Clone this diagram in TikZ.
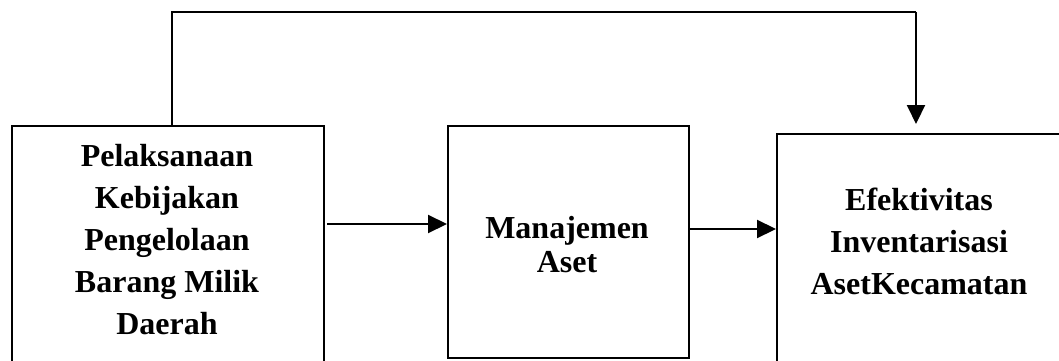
\documentclass[tikz,border=0pt]{standalone}
\usepackage{fontspec}
\setmainfont{Liberation Serif}
\usetikzlibrary{arrows.meta}
\begin{document}
\begin{tikzpicture}[x=1pt,y=-1pt,
  box/.style={draw=black,line width=2.1pt,anchor=north west,inner sep=0pt},
  lbl/.style={font=\fontsize{32}{42}\selectfont\bfseries,align=center,inner sep=0pt},
  arr/.style={line width=2.1pt,-{Triangle[length=19pt,width=18pt]}},
  conn/.style={line width=2.1pt}]
\useasboundingbox (0,0) rectangle (1059,361);
\fill[white] (0,0) rectangle (1059,361);
% boxes
\node[box,minimum width=312pt,minimum height=260pt] (b1) at (11,125) {};
\node[box,minimum width=241pt,minimum height=232pt] (b2) at (447,125) {};
\node[box,minimum width=286pt,minimum height=260pt] (b3) at (776,133) {};
% labels
\node[lbl] (t1) at (167,240) {Pelaksanaan\\Kebijakan\\Pengelolaan\\Barang Milik\\Daerah};
\node[lbl,font=\fontsize{32}{34}\selectfont\bfseries] (t2) at (567,245) {Manajemen\\Aset};
\node[lbl] (t3) at (919,241) {Efektivitas\\Inventarisasi\\AsetKecamatan};
% helper coordinates
\coordinate (ya) at (0,224);
\coordinate (yb) at (0,229);
\coordinate (s1) at (327,224);
\coordinate (ltop) at (172,12);
\coordinate (rtop) at (916,12);
\coordinate (tip) at (916,124);
% connectors
\draw[arr] (s1) -- (b2.west |- ya);
\draw[arr] (b2.east |- yb) -- (b3.west |- yb);
\draw[conn] (b1.north -| ltop) -- (ltop) -- (rtop);
\draw[arr] (rtop) -- (tip);
\end{tikzpicture}
\end{document}
